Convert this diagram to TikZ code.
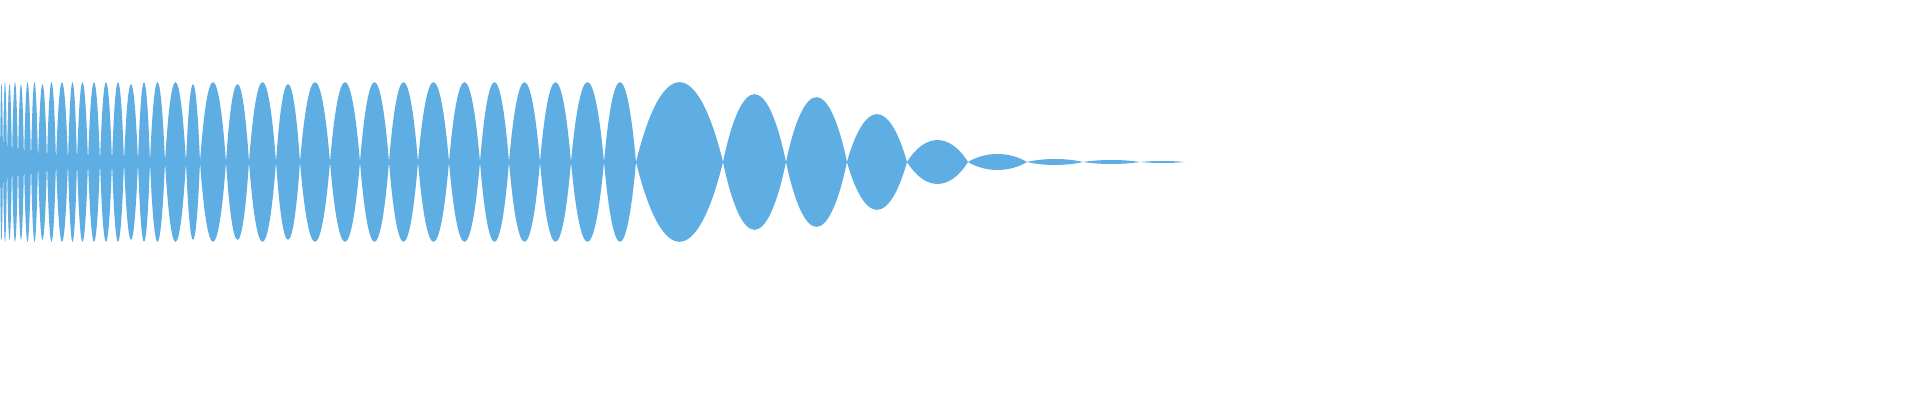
\documentclass[tikz,border=0pt]{standalone}
\definecolor{wave}{HTML}{5FAEE3}
\begin{document}
\begin{tikzpicture}[x=0.01cm,y=0.01cm]
\useasboundingbox (0,0) rectangle (1920,400);
\tikzset{lobe/.style={fill=wave,draw=none}}
\foreach \a/\b/\h in {0/3/78,3/7/80,7/12/78,12/18/80,18/24/78,24/31/80,31/38/80,38/47/78,47/56/80,56/68/80,68/77/80,77/88/80,88/100/80,100/112/80,112/124/80,124/138/78,138/150/80,150/165/80,165/186/80,186/200/78,200/226/80,226/249/78,249/276/80,276/300/78,300/330/80,330/360/80,360/389/80,389/418/80,418/449/80,449/480/80,480/509/80,509/540/80,540/571/80,571/604/80,604/636/80,636/723/80,723/786/68,786/847/65,847/907/48,907/968/22,968/1027/8,1027/1083/3,1083/1140/2,1140/1185/1}{
  \path[lobe] ({\a},238) .. controls ({\a+0.3*(\b-\a)},{238+1.33*\h}) and ({\a+0.7*(\b-\a)},{238+1.33*\h}) .. ({\b},238)
    .. controls ({\a+0.7*(\b-\a)},{238-1.33*\h}) and ({\a+0.3*(\b-\a)},{238-1.33*\h}) .. cycle;
}
\end{tikzpicture}
\end{document}
